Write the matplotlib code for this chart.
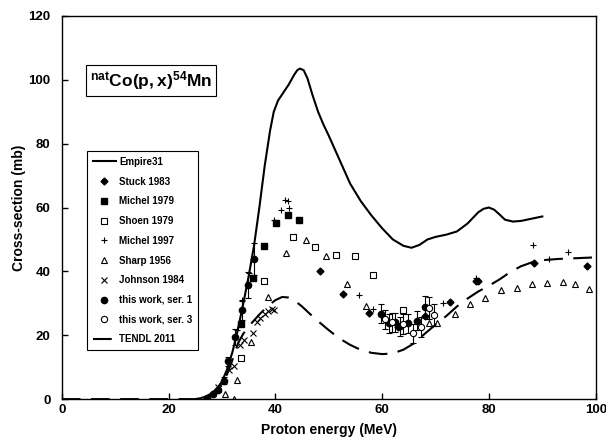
import matplotlib
matplotlib.use("Agg")
import matplotlib.pyplot as plt
from matplotlib.lines import Line2D

plt.rcParams['font.family'] = ['Liberation Sans', 'DejaVu Sans']
plt.rcParams['font.weight'] = 'bold'
plt.rcParams['mathtext.fontset'] = 'custom'
plt.rcParams['mathtext.bf'] = 'Liberation Sans:bold'
plt.rcParams['mathtext.rm'] = 'Liberation Sans:bold'

# Empire31 model curve
empire_x = [25, 26, 27, 28, 29, 30, 31, 32, 33, 34, 35, 36, 37, 38, 39, 39.7, 40.5, 41.5, 42.5, 43.5, 44.1, 44.6, 45.3, 46, 47, 48, 49, 50, 52, 54, 56, 58, 60, 62, 64, 65.5, 67, 68.5, 70, 72, 74, 76, 78, 79, 80, 81, 82, 83, 84.5, 86, 88, 90]
empire_y = [0, 0.3, 0.8, 1.8, 3.2, 5.5, 9.5, 15, 22, 30, 38.5, 48, 60, 73, 84, 90, 93.5, 96, 98.5, 101.5, 103, 103.5, 103, 100.5, 95, 90, 86, 82.5, 75, 67.5, 62, 57.5, 53.5, 50, 48, 47.4, 48.3, 50, 50.8, 51.5, 52.5, 55, 58.5, 59.6, 60, 59.3, 57.8, 56.2, 55.6, 55.8, 56.5, 57.2]

# TENDL 2011 curve
tendl_x = [0, 25, 26.5, 28, 29, 30, 31, 32, 33, 34, 35.5, 37, 38.5, 40, 41.3, 42.5, 43.5, 45, 46.4, 48, 50, 52, 54, 56, 58, 60, 62, 64, 66, 68, 70, 72, 74, 76, 78, 80, 82, 84, 86, 88, 90, 93, 96, 100]
tendl_y = [0, 0, 0.3, 1.3, 2.5, 4.5, 8.0, 12.5, 17.5, 20.5, 23.7, 26.5, 29, 31, 32, 31.8, 31, 29, 26.8, 24.4, 21.6, 19, 17, 15.4, 14.5, 14.1, 14.3, 15.5, 17.5, 20.5, 23.3, 26, 29, 31.5, 33.7, 35.5, 37.5, 39.8, 41.6, 42.8, 43.5, 43.9, 44.1, 44.4]

# Stuck 1983
stuck_x = [48.4, 52.7, 57.6, 62.9, 68.0, 72.8, 77.6, 78.0, 88.4, 98.3]
stuck_y = [40.1, 33.0, 26.9, 22.6, 26.0, 30.3, 36.9, 36.9, 42.7, 41.6]

# Michel 1979
michel79_x = [33.6, 35.8, 37.9, 40.1, 42.3, 44.5]
michel79_y = [23.6, 37.8, 48.0, 55.3, 57.8, 56.0]

# Shoen 1979
shoen_x = [33.5, 37.9, 43.3, 47.5, 51.3, 54.9, 58.2, 63.9]
shoen_y = [12.8, 37.0, 50.7, 47.6, 45.0, 44.7, 38.8, 27.9]

# Michel 1997
michel97_x = [31.1, 32.8, 33.8, 35.0, 39.7, 41.0, 41.8, 42.4, 42.5, 55.7, 58.3, 71.4, 77.5, 88.3, 91.3, 94.8]
michel97_y = [12.2, 21.8, 30.9, 39.5, 56.0, 59.3, 62.5, 62.0, 59.7, 32.5, 28.2, 30.2, 37.8, 48.4, 44.0, 46.1]

# Sharp 1956
sharp_x = [30.5, 32.2, 32.9, 35.5, 38.6, 42.0, 45.8, 49.5, 53.4, 57.0, 68.8, 70.3, 73.6, 76.4, 79.3, 82.3, 85.3, 88.0, 90.8, 93.8, 96.2, 98.8]
sharp_y = [1.5, 0.0, 6.1, 17.8, 32.0, 45.7, 49.8, 44.7, 35.9, 29.3, 23.9, 23.9, 26.8, 29.7, 31.8, 34.3, 34.9, 35.9, 36.3, 36.7, 35.9, 34.5]

# Johnson 1984
johnson_x = [29.3, 31.3, 32.2, 33.3, 34.2, 35.8, 36.6, 37.1, 38.0, 38.6, 39.3, 39.7]
johnson_y = [3.9, 9.2, 10.3, 16.9, 18.6, 20.8, 24.0, 25.5, 26.8, 27.6, 28.3, 28.0]

# This work, series 1
ser1_x = [27.2, 28.4, 29.3, 30.4, 31.2, 32.5, 33.7, 34.9, 36.0, 59.7, 61.2, 62.4, 63.4, 64.9, 66.5, 68.1]
ser1_y = [0.3, 1.5, 2.9, 5.8, 11.8, 19.6, 27.8, 35.8, 44.0, 26.7, 23.8, 24.1, 22.8, 23.8, 24.6, 28.8]
ser1_err = [0.3, 0.4, 0.6, 1.0, 1.5, 2.5, 3.0, 4.0, 5.0, 3.0, 3.0, 3.0, 3.0, 3.0, 3.0, 3.5]

# This work, series 3
ser3_x = [60.5, 61.9, 63.9, 65.7, 67.3, 68.8, 69.7]
ser3_y = [25.0, 24.0, 23.5, 20.6, 22.6, 28.5, 26.3]
ser3_err = [3.0, 3.0, 3.0, 3.0, 3.0, 3.5, 3.5]

x_ticks = [0, 20, 40, 60, 80, 100]
y_ticks = [0, 20, 40, 60, 80, 100, 120]

fig = plt.figure(figsize=(6.06, 4.42), dpi=100)
ax = fig.add_axes([0.102, 0.097, 0.881, 0.867])

ms = 4.5
h_emp, = ax.plot(empire_x, empire_y, '-', color='black', lw=1.5, label='Empire31')
h_stuck, = ax.plot(stuck_x, stuck_y, 'D', color='black', ms=3.5, ls='none', label='Stuck 1983')
h_m79, = ax.plot(michel79_x, michel79_y, 's', color='black', ms=ms, ls='none', label='Michel 1979')
h_shoen, = ax.plot(shoen_x, shoen_y, 's', mfc='white', mec='black', mew=0.8, ms=ms, ls='none', label='Shoen 1979')
h_m97, = ax.plot(michel97_x, michel97_y, '+', color='black', ms=5, mew=0.8, ls='none', label='Michel 1997')
h_sharp, = ax.plot(sharp_x, sharp_y, '^', mfc='white', mec='black', mew=0.8, ms=ms, ls='none', label='Sharp 1956')
h_john, = ax.plot(johnson_x, johnson_y, 'x', color='black', ms=4, mew=0.8, ls='none', label='Johnson 1984')
ax.errorbar(ser1_x, ser1_y, yerr=ser1_err, fmt='o', color='black', ms=ms, ecolor='black',
            elinewidth=0.8, capsize=2, capthick=0.8)
ax.errorbar(ser3_x, ser3_y, yerr=ser3_err, fmt='o', mfc='white', mec='black', mew=0.8, ms=ms,
            ecolor='black', elinewidth=0.8, capsize=2, capthick=0.8)
h_tendl, = ax.plot(tendl_x, tendl_y, color='black', lw=1.5, dashes=(9, 5), label='TENDL 2011')

h_s1 = Line2D([], [], marker='o', color='black', ms=ms, ls='none', label='this work, ser. 1')
h_s3 = Line2D([], [], marker='o', mfc='white', mec='black', mew=0.8, ms=ms, ls='none', label='this work, ser. 3')

ax.set_xlim(0, 100)
ax.set_ylim(0, 120)
ax.set_xticks(x_ticks)
ax.set_yticks(y_ticks)
ax.tick_params(direction='in', length=4, width=1, labelsize=9.5)
ax.tick_params(axis='y', pad=8)
for lab in ax.get_xticklabels() + ax.get_yticklabels():
    lab.set_fontweight('bold')
for s in ax.spines.values():
    s.set_linewidth(1.0)

ax.set_xlabel('Proton energy (MeV)', fontsize=10, fontweight='bold', labelpad=5)
ax.set_ylabel('Cross-section (mb)', fontsize=10, fontweight='bold', labelpad=2)

handles = [h_emp, h_stuck, h_m79, h_shoen, h_m97, h_sharp, h_john, h_s1, h_s3, h_tendl]
leg = ax.legend(handles=handles, loc='upper left', bbox_to_anchor=(0.038, 0.66), fontsize=7,
                frameon=True, fancybox=False, edgecolor='black', framealpha=1, labelspacing=1.0,
                handlelength=2.4, handletextpad=0.3, borderpad=0.6)
leg.get_frame().set_linewidth(0.8)
for t in leg.get_texts():
    t.set_fontweight('bold')

ax.text(0.052, 0.832, r'$\mathbf{^{nat}Co(p,x)^{54}Mn}$', transform=ax.transAxes,
        fontsize=12.5, va='center', ha='left',
        bbox=dict(boxstyle='square,pad=0.22', fc='white', ec='black', lw=0.8))

fig.savefig('out.png', dpi=100)
